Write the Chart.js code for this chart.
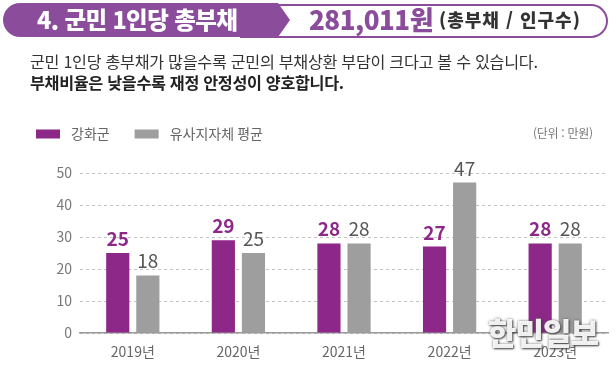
<!DOCTYPE html>
<html lang="ko">
<head>
<meta charset="utf-8">
<script src="https://cdn.jsdelivr.net/npm/chart.js@4.4.1/dist/chart.umd.min.js"></script>
<style>
  html, body { margin: 0; padding: 0; background: #fff; }
  body { width: 616px; height: 366px; position: relative; overflow: hidden; font-family: "Noto Sans CJK KR", "Noto Sans", sans-serif; }
  #wrap { position: absolute; left: 0; top: 0; width: 616px; height: 366px; }
  .outline { position: absolute; left: 240px; top: 4px; width: 366px; height: 30px; border: 2px solid #8a4c9b; border-radius: 0 17px 17px 0; border-left: none; box-sizing: content-box; }
  .title-svg { position: absolute; left: 0; top: 0; }
  .t1 { position: absolute; left: 37px; top: 2px; font-size: 23.5px; font-weight: 900; color: #fff; letter-spacing: -0.6px; line-height: 34px; }
  .t2 { position: absolute; left: 309px; top: 1px; font-size: 26px; font-weight: 900; color: #8a4c9b; line-height: 36px; letter-spacing: -0.5px; }
  .t3 { position: absolute; left: 439px; top: 4px; font-size: 18px; font-weight: 900; color: #333; line-height: 30px; letter-spacing: 1px; }
  .sub1 { position: absolute; left: 30px; top: 49px; font-size: 16.2px; color: #333; line-height: 24px; letter-spacing: -0.3px; }
  .sub2 { position: absolute; left: 30px; top: 70px; font-size: 16.2px; font-weight: 700; color: #222; line-height: 24px; letter-spacing: -0.3px; }
  .unit { position: absolute; left: 533px; top: 123px; font-size: 12px; color: #777; line-height: 20px; letter-spacing: -0.3px; }
  .wm { position: absolute; left: 488px; top: 312px; font-size: 31px; font-weight: 900; color: rgba(255,255,255,0.92); text-shadow: 1px 1px 2px rgba(60,60,60,0.9), 0 0 3px rgba(80,80,80,0.7); line-height: 40px; letter-spacing: -1px; }
  canvas { position: absolute; left: 0; top: 0; }
</style>
</head>
<body>
<div id="wrap">
  <canvas id="c" width="616" height="366"></canvas>
  <div class="outline"></div>
  <svg class="title-svg" width="616" height="45">
    <path d="M20 3 L278 3 L290 20 L278 37 L20 37 A17 17 0 0 1 20 3 Z" fill="#8a4c9b"/>
  </svg>
  <div class="t1">4. 군민 1인당 총부채</div>
  <div class="t2">281,011원</div>
  <div class="t3">(총부채 / 인구수)</div>
  <div class="sub1">군민 1인당 총부채가 많을수록 군민의 부채상환 부담이 크다고 볼 수 있습니다.</div>
  <div class="sub2">부채비율은 낮을수록 재정 안정성이 양호합니다.</div>
  <div class="unit">(단위 : 만원)</div>
  <div class="wm">한민일보</div>
</div>
<script>
const categories = ["2019년", "2020년", "2021년", "2022년", "2023년"];
const seriesNames = ["강화군", "유사지자체 평균"];
const ganghwa = [25, 29, 28, 27, 28];
const similarAvg = [18, 25, 28, 47, 28];
const yTicks = [0, 10, 20, 30, 40, 50];

const PURPLE = "#8d2788";
const GRAY = "#9e9e9e";
const FONT = '"Noto Sans CJK KR", "Noto Sans", sans-serif';

const valueLabels = {
  id: "valueLabels",
  afterDatasetsDraw(chart) {
    const ctx = chart.ctx;
    ctx.save();
    ctx.textAlign = "center";
    ctx.textBaseline = "alphabetic";
    chart.data.datasets.forEach((ds, di) => {
      const meta = chart.getDatasetMeta(di);
      meta.data.forEach((bar, i) => {
        ctx.font = (di === 0 ? "700 " : "400 ") + "19px " + FONT;
        ctx.fillStyle = di === 0 ? PURPLE : "#555";
        ctx.fillText(String(ds.data[i]), bar.x, bar.y - 7);
      });
    });
    ctx.restore();
  }
};

const customLegend = {
  id: "customLegend",
  afterDraw(chart) {
    const ctx = chart.ctx;
    ctx.save();
    ctx.font = "400 14px " + FONT;
    ctx.textBaseline = "middle";
    ctx.textAlign = "left";
    let x = 36;
    const y = 134;
    chart.data.datasets.forEach((ds, di) => {
      ctx.fillStyle = ds.backgroundColor;
      ctx.fillRect(x, y - 4.5, 24, 9);
      ctx.fillStyle = "#666";
      ctx.fillText(ds.label, x + 35, y);
      x += 35 + ctx.measureText(ds.label).width + 25;
    });
    ctx.restore();
  }
};

new Chart(document.getElementById("c"), {
  type: "bar",
  data: {
    labels: categories,
    datasets: [
      { label: seriesNames[0], data: ganghwa, backgroundColor: PURPLE, categoryPercentage: 0.57, barPercentage: 0.77 },
      { label: seriesNames[1], data: similarAvg, backgroundColor: GRAY, categoryPercentage: 0.57, barPercentage: 0.77 }
    ]
  },
  options: {
    responsive: false,
    animation: false,
    devicePixelRatio: 1,
    layout: { padding: { top: 173, right: 8, left: 0, bottom: 0 } },
    plugins: { legend: { display: false }, tooltip: { enabled: false } },
    scales: {
      x: {
        grid: { display: false, drawTicks: false },
        border: { display: true, color: "#9a9a9a", width: 1.5 },
        ticks: { color: "#666", font: { family: FONT, size: 14 }, padding: 10 },
        afterFit(s) { s.height = 33; }
      },
      y: {
        min: 0, max: 50,
        afterBuildTicks(s) { s.ticks = yTicks.map(v => ({ value: v })); },
        grid: { color: "#c4c4c4", lineWidth: 1, drawTicks: false },
        border: { display: false, dash: [3, 3] },
        ticks: { color: "#777", font: { family: FONT, size: 14 }, padding: 8 },
        afterFit(s) { s.width = 80; }
      }
    }
  },
  plugins: [valueLabels, customLegend]
});
</script>
</body>
</html>
